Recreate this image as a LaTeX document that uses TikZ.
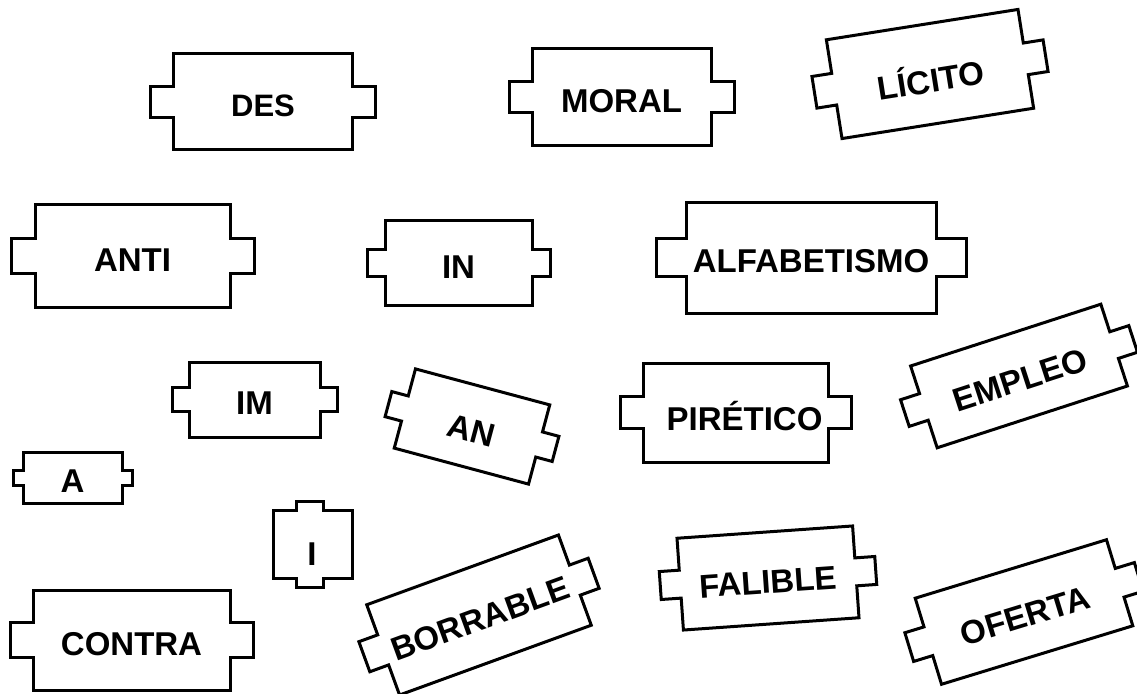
\documentclass[tikz,border=0pt]{standalone}
\usepackage{fontspec}
\setmainfont{Liberation Sans}

\tikzset{
  tileline/.style={draw=black,line width=3pt,line join=miter,fill=white},
  tiletext/.style={font=\bfseries\fontsize{33}{33}\selectfont,inner sep=0pt}
}

% #1 name, #2/#3 centre, #4 angle, #5/#6 half sizes, #7 tab depth, #8 tab half height, #9 text
\newcommand{\tile}[9]{%
  \begin{scope}[shift={(#2,#3)},rotate=#4]
    \draw[tileline] (-#5,-#6) -- (#5,-#6) -- (#5,-#8) -- ({#5+#7},-#8) -- ({#5+#7},#8)
      -- (#5,#8) -- (#5,#6) -- (-#5,#6) -- (-#5,#8) -- ({-#5-#7},#8) -- ({-#5-#7},-#8)
      -- (-#5,-#8) -- cycle;
    \node[tiletext,rotate=#4] (#1) at (0,4) {#9};
  \end{scope}}

\begin{document}
\begin{tikzpicture}[x=1pt,y=-1pt]
  \useasboundingbox (0,0) rectangle (1137,693);

  \tile{des}{263}{101.5}{0}{89.5}{47.5}{23}{15.5}{\fontsize{31}{31}\selectfont DES}
  \tile{moral}{621.5}{97}{0}{89.5}{48.5}{23}{15.5}{MORAL}
  \tile{licito}{930}{74}{9}{97}{50}{20}{16}{LÍCITO}

  \tile{anti}{132.5}{256}{0}{97.5}{51.5}{24}{17.5}{ANTI}
  \tile{in}{458.5}{263}{0}{73.5}{42.5}{18}{13.5}{IN}
  \tile{alfa}{811}{257.5}{0}{125}{55.5}{30}{19}{ALFABETISMO}

  \tile{im}{254.5}{399.5}{0}{65.5}{37.5}{17}{12}{IM}
  \tile{an}{472}{426.5}{-15}{69.5}{41}{17}{13}{AN}
  \tile{piretico}{735.5}{412.5}{0}{92.5}{49.5}{23}{16}{\hspace*{18pt}PIRÉTICO}
  \tile{empleo}{1019}{376}{18}{100}{43}{20}{14}{EMPLEO}

  \tile{a}{72.5}{477.5}{0}{49.5}{25.5}{10}{7.5}{A}

  % the one standing upright, tabs on top and bottom
  \draw[tileline] (273,510) -- (296,510) -- (296,501) -- (323,501) -- (323,510) -- (352,510)
    -- (352,578) -- (323,578) -- (323,587) -- (296,587) -- (296,578) -- (273,578) -- cycle;
  \node[tiletext] (i) at (312,554) {I};

  \tile{contra}{131.5}{640}{0}{98.5}{50}{23}{17.5}{CONTRA}
  \tile{borrable}{479}{615}{20}{102}{48}{20}{16}{BORRABLE}
  \tile{falible}{768}{578}{4}{88}{46}{20}{14}{FALIBLE}
  \tile{oferta}{1024}{612}{17}{100}{45}{20}{15}{OFERTA}
\end{tikzpicture}
\end{document}
